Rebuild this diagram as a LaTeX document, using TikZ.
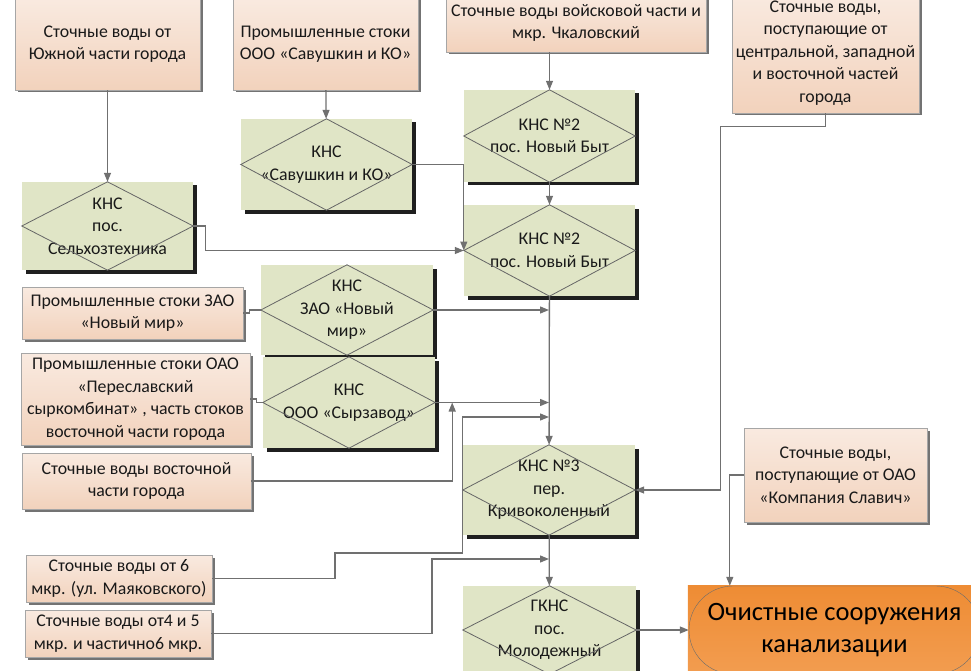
\documentclass[tikz,border=0pt]{standalone}
\usepackage{fontspec}
\setmainfont{Carlito}
\usetikzlibrary{arrows.meta, shadows, backgrounds}
\definecolor{peachtop}{RGB}{249,234,224}
\definecolor{peachbot}{RGB}{242,210,188}
\definecolor{knsgreen}{RGB}{224,229,198}
\definecolor{pipegray}{RGB}{112,112,112}
\definecolor{planttop}{RGB}{238,140,52}
\definecolor{plantbot}{RGB}{243,158,82}

\begin{document}
\begin{tikzpicture}[x=1pt, y=-1pt,
    every node/.style = {font=\fontsize{17.8}{22.5}\selectfont, text=black!90, align=center, inner sep=0pt},
    src/.style = {draw=gray!70, top color=peachtop, bottom color=peachbot,
                  general shadow={fill=black!55, shadow xshift=2.5pt, shadow yshift=-2.5pt}},
    kns/.style = {fill=knsgreen, general shadow={fill=black!88, shadow xshift=3.5pt, shadow yshift=-3.5pt}},
    rhomb/.style = {draw=gray!80!black, line width=0.8pt},
    link/.style = {draw=pipegray, line width=1.3pt},
    flow/.style = {link, -{Triangle[length=9pt, width=7pt]}}]
  \useasboundingbox (0,0) rectangle (971,671);
  \clip (0,0) rectangle (971,671);

  \node[src, minimum width=185pt, minimum height=92pt] (south)   at (107.5,44)  {Сточные воды от\\Южной части города};
  \node[src, minimum width=185pt, minimum height=92pt] (savsrc)  at (325.5,44)  {Промышленные стоки\\ООО «Савушкин и КО»};
  \node[src, minimum width=260pt, minimum height=58pt] (chkal)   at (576,23)    {Сточные воды войсковой части и\\мкр. Чкаловский};
  \node[src, minimum width=187pt, minimum height=120pt] (central) at (825.5,53) {Сточные воды,\\поступающие от\\центральной, западной\\и восточной частей\\города};
  \node[src, minimum width=221pt, minimum height=52pt] (nmsrc)   at (132.5,313) {Промышленные стоки ЗАО\\«Новый мир»};
  \node[src, minimum width=229pt, minimum height=92pt] (syrsrc)  at (135.5,399) {Промышленные стоки ОАО\\«Переславский\\сыркомбинат» , часть стоков\\восточной части города};
  \node[src, minimum width=229pt, minimum height=56pt] (eastsrc) at (136.5,481) {Сточные воды восточной\\части города};
  \node[src, minimum width=183pt, minimum height=94pt] (slavsrc) at (835.5,475) {Сточные воды,\\поступающие от ОАО\\«Компания Славич»};
  \node[src, minimum width=186pt, minimum height=47pt] (m6src)   at (119,578.5) {Сточные воды от 6\\мкр. (ул. Маяковского)};
  \node[src, minimum width=186pt, minimum height=47pt] (m45src)  at (118,633.5) {Сточные воды от4 и 5\\мкр. и частично6 мкр.};

  \node[kns, minimum width=171pt, minimum height=88pt] (selkhoz) at (107.5,226) {КНС\\пос.\\Сельхозтехника};
  \node[kns, minimum width=171pt, minimum height=91pt] (savkns)  at (326.5,164.5) {КНС\\«Савушкин и КО»};
  \node[kns, minimum width=171pt, minimum height=91pt] (kns2b)   at (549.5,250.5) {КНС №2\\пос. Новый Быт};
  \node[kns, minimum width=172pt, minimum height=90pt] (nmkns)   at (347,310) {КНС\\ЗАО «Новый\\мир»};
  \node[kns, minimum width=172pt, minimum height=91pt] (syrkns)  at (349,402.5) {КНС\\ООО «Сырзавод»};
  \node[kns, minimum width=172pt, minimum height=90pt] (kns3)    at (549,490) {КНС №3\\пер.\\Кривоколенный};
  \node[kns, minimum width=173pt, minimum height=88pt] (gkns)    at (549.5,630) {ГКНС\\пос.\\Молодежный};

  \draw[flow] (savkns.east) -| (kns2b.west);
  \node[kns, minimum width=171pt, minimum height=92pt] (kns2a)   at (549.5,136) {КНС №2\\пос. Новый Быт};

  \node[draw=gray!85!black, rounded corners=44pt, minimum width=291pt, minimum height=88pt,
        font=\fontsize{26.5}{32}\selectfont, text=black] (ochist) at (834.5,630) {Очистные сооружения\\канализации};
  \begin{scope}[on background layer]
    \fill[top color=planttop, bottom color=plantbot] ([xshift=-1pt]ochist.north west) rectangle ([xshift=10pt, yshift=-6pt]ochist.south east);
  \end{scope}

  \foreach \n in {selkhoz, savkns, kns2a, kns2b, nmkns, syrkns, kns3, gkns}
    \draw[rhomb] (\n.north) -- (\n.east) -- (\n.south) -- (\n.west) -- cycle;

  \draw[flow] (south) -- (selkhoz);
  \draw[flow] (savsrc) -- (savkns);
  \draw[flow] (kns2a.north |- chkal.south) -- (kns2a.north);
  \draw[flow] (kns2a) -- (kns2b);
  \draw[flow] (selkhoz.east) -- ++(12,0) |- (kns2b.west);
  \draw[flow] (kns2b) -- (kns3);
  \draw[link] (nmsrc.east) -- ++(6,0) |- (nmkns.west);
  \draw[flow] (nmkns.east) -- (kns3.north |- nmkns.east);
  \draw[link] (syrsrc.east) -- ++(6,0) |- (syrkns.west);
  \draw[flow] (syrkns.east) -- (kns3.north |- syrkns.east);
  \draw[flow] (eastsrc.east) -| ([xshift=17pt]syrkns.east);
  \draw[flow] (m6src.east) -| (335,553) -| (kns3.west |- 0,417) -- (kns3.north |- 0,417);
  \draw[flow] (m45src.east) -| (432,559) -- (kns3.south |- 0,559);
  \draw[flow] (central.south) -- ++(0,13) -| ([xshift=85pt]kns3.east) -- (kns3.east);
  \draw[flow] (kns3) -- (gkns);
  \draw[flow] (slavsrc.west) -| ([xshift=41pt]ochist.north west);
  \draw[flow] (gkns.east) -- (ochist.west);
\end{tikzpicture}
\end{document}
